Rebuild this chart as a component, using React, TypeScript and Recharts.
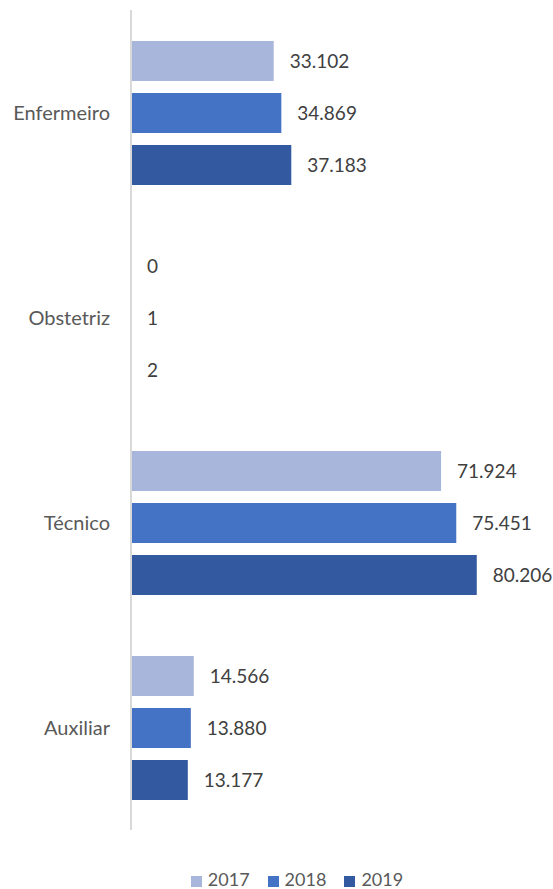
import React from 'react';
import { BarChart, Bar, XAxis, YAxis, LabelList, Legend } from 'recharts';

const categories = ['Enfermeiro', 'Obstetriz', 'Técnico', 'Auxiliar'];
const values2017 = [33102, 0, 71924, 14566];
const values2018 = [34869, 1, 75451, 13880];
const values2019 = [37183, 2, 80206, 13177];

const data = categories.map((name, i) => ({
  name,
  y2017: values2017[i],
  y2018: values2018[i],
  y2019: values2019[i],
}));

// pt-BR style thousands separator
const fmt = (v: any) => String(v).replace(/\B(?=(\d{3})+(?!\d))/g, '.');

const labelStyle = { fill: '#404040', fontSize: 19 };

const App: React.FC = () => {
  return (
    <div style={{ position: 'absolute', top: 0, left: 0, fontFamily: 'Lato, sans-serif' }}>
      <BarChart
        width={553}
        height={889}
        data={data}
        layout="vertical"
        margin={{ top: 10, right: 34, bottom: 59, left: 0 }}
        barSize={40}
        barGap={12}
        style={{ fontFamily: 'Lato, sans-serif' }}
      >
        <XAxis type="number" domain={[0, 90000]} hide />
        <YAxis
          type="category"
          dataKey="name"
          width={131}
          tickLine={false}
          tickSize={0}
          tickMargin={21}
          axisLine={{ stroke: '#d9d9d9', strokeWidth: 2 }}
          tick={{ fill: '#595959', fontSize: 20 }}
        />
        <Legend
          layout="horizontal"
          align="center"
          verticalAlign="middle"
          iconType="square"
          iconSize={11}
          wrapperStyle={{ top: 868, left: 186, width: 240 }}
          formatter={(value: string) => (
            <span style={{ color: '#595959', fontSize: 18, marginLeft: 2, marginRight: 8 }}>{value}</span>
          )}
        />
        <Bar dataKey="y2017" name="2017" fill="#a9b6dc" minPointSize={0.01} isAnimationActive={false}>
          <LabelList dataKey="y2017" position="right" offset={16} formatter={fmt} style={labelStyle} />
        </Bar>
        <Bar dataKey="y2018" name="2018" fill="#4472c4" minPointSize={0.01} isAnimationActive={false}>
          <LabelList dataKey="y2018" position="right" offset={16} formatter={fmt} style={labelStyle} />
        </Bar>
        <Bar dataKey="y2019" name="2019" fill="#335aa0" minPointSize={0.01} isAnimationActive={false}>
          <LabelList dataKey="y2019" position="right" offset={16} formatter={fmt} style={labelStyle} />
        </Bar>
      </BarChart>
    </div>
  );
};

export default App;
